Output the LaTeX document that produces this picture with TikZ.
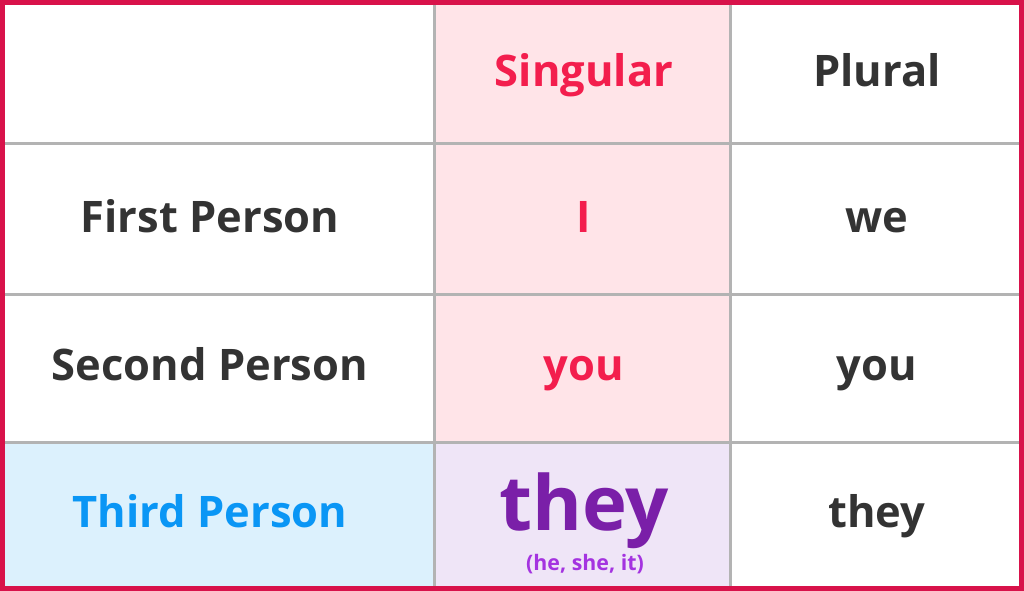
\documentclass[tikz,border=0pt]{standalone}
\usepackage{fontspec}
\setmainfont{Open Sans}
\usepackage{tikz}

\definecolor{frame}{HTML}{D8124A}
\definecolor{gridgray}{HTML}{B3B3B3}
\definecolor{ink}{HTML}{333333}
\definecolor{singred}{HTML}{F31E4D}
\definecolor{thirdblue}{HTML}{0A96F5}
\definecolor{theypurple}{HTML}{7A1FA8}
\definecolor{hintpurple}{HTML}{A433E0}
\definecolor{pinkbg}{HTML}{FFE4E8}
\definecolor{bluebg}{HTML}{DCF1FD}
\definecolor{lilacbg}{HTML}{EFE5F7}

\tikzset{
  cell/.style={anchor=base, inner sep=0.75pt, font=\fontsize{32.6}{40}\selectfont\bfseries},
  gridline/.style={draw=gridgray, line width=2.25pt},
}

\begin{document}
\begin{tikzpicture}[x=0.75pt,y=0.75pt,yscale=-1,xscale=1]
	\useasboundingbox (0,0) rectangle (1024,591);
	
	%Shape: Rectangle [id:singular column] 
	\fill [pinkbg] (434,0) rectangle (730,442) ;
	%Shape: Rectangle [id:third person row] 
	\fill [bluebg] (0,442) rectangle (434,591) ;
	%Shape: Rectangle [id:they cell] 
	\fill [lilacbg] (434,442) rectangle (730,591) ;
	
	%Straight Lines [id:columns] 
	\draw [gridline] (434,0) -- (434,591) ;
	\draw [gridline] (730,0) -- (730,591) ;
	%Straight Lines [id:rows] 
	\draw [gridline] (0,144) -- (1024,144) ;
	\draw [gridline] (0,295) -- (1024,295) ;
	\draw [gridline] (0,442) -- (1024,442) ;
	
	%Shape: Rectangle [id:outer frame] 
	\draw [frame, line width=3.75pt] (2.5,2.5) rectangle (1021.5,588.5) ;
	
	% Text Node
	\node [cell, text=singred] (singular) at (584,87) {Singular};
	% Text Node
	\node [cell, text=ink] (plural) at (877,87) {Plural};
	% Text Node
	\node [cell, text=ink] (first) at (210,233) {First Person};
	% Text Node
	\node [cell, text=singred] (firstsg) at (584,233) {I};
	% Text Node
	\node [cell, text=ink] (firstpl) at (877,233) {we};
	% Text Node
	\node [cell, text=ink] (second) at (210,381) {Second Person};
	% Text Node
	\node [cell, text=singred] (secondsg) at (584,381) {you};
	% Text Node
	\node [cell, text=ink] (secondpl) at (877,381) {you};
	% Text Node
	\node [cell, text=thirdblue] (third) at (210,527) {Third Person};
	% Text Node
	\node [cell, text=theypurple, font=\fontsize{57}{60}\selectfont\bfseries] (thirdsg) at (584,530) {they};
	% Text Node
	\node [cell, text=hintpurple, font=\fontsize{16}{18}\selectfont\bfseries] (thirdsghint) at (585,570) {(he, she, it)};
	% Text Node
	\node [cell, text=ink] (thirdpl) at (877,527) {they};
	
\end{tikzpicture}
\end{document}
